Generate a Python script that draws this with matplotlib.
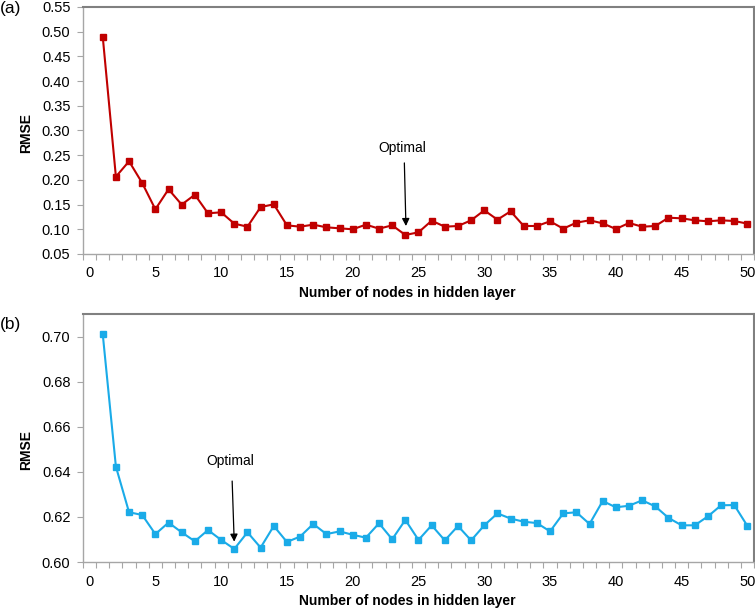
import matplotlib
matplotlib.use("Agg")
import matplotlib.pyplot as plt
import numpy as np

plt.rcParams['font.family'] = ['Liberation Sans', 'DejaVu Sans']

nodes = list(range(1, 51))

rmse_a = [0.490, 0.2065, 0.2377, 0.1937, 0.1405, 0.181, 0.150, 0.170, 0.1324, 0.1344,
          0.1114, 0.1053, 0.145, 0.1506, 0.108, 0.1053, 0.1094, 0.104, 0.102, 0.100,
          0.1094, 0.1013, 0.108, 0.0885, 0.0939, 0.1174, 0.1053, 0.1067, 0.1182, 0.1384,
          0.1195, 0.1364, 0.1067, 0.1067, 0.1162, 0.1013, 0.1134, 0.1182, 0.1121, 0.1006,
          0.1128, 0.1053, 0.1067, 0.1235, 0.1222, 0.1182, 0.1162, 0.1182, 0.1168, 0.1114]

rmse_b = [0.7013, 0.6424, 0.6221, 0.6209, 0.6124, 0.6175, 0.6132, 0.6092, 0.6142, 0.6098,
          0.6058, 0.6132, 0.6064, 0.6160, 0.6089, 0.6113, 0.6169, 0.6124, 0.6136, 0.6121,
          0.6108, 0.6172, 0.6101, 0.6187, 0.6098, 0.6163, 0.6096, 0.6160, 0.6096, 0.6163,
          0.6216, 0.6193, 0.6179, 0.6173, 0.6136, 0.6216, 0.6221, 0.6169, 0.6271, 0.6243,
          0.6250, 0.6274, 0.6247, 0.6196, 0.6163, 0.6163, 0.6203, 0.6252, 0.6253, 0.6160]

yticks_a = [0.05, 0.10, 0.15, 0.20, 0.25, 0.30, 0.35, 0.40, 0.45, 0.50, 0.55]
yticks_b = [0.60, 0.62, 0.64, 0.66, 0.68, 0.70]
xticks = [0, 5, 10, 15, 20, 25, 30, 35, 40, 45, 50]

opt_a = 24
opt_b = 11

panel_labels = ['(a)', '(b)']
xlabel = 'Number of nodes in hidden layer'
ylabel = 'RMSE'

fig = plt.figure(figsize=(7.55, 6.09), dpi=100)
W, H = 755, 609
ax_a = fig.add_axes([83 / W, 1 - 254 / H, 671 / W, 247 / H])
ax_b = fig.add_axes([83 / W, 1 - 562 / H, 671 / W, 248 / H])

light = '#a6a6a6'
dark = '#808080'

def style(ax, yticks, ylim, fmt):
    ax.set_xlim(-0.5, 50.5)
    ax.set_ylim(*ylim)
    ax.set_xticks(xticks)
    ax.set_xticks(np.arange(-0.5, 51, 1.0), minor=True)
    ax.set_yticks(yticks)
    ax.set_yticklabels([fmt.format(v) for v in yticks])
    ax.tick_params(axis='x', which='major', length=0, pad=9, labelsize=10.5, colors='black')
    ax.tick_params(axis='x', which='minor', length=4, width=0.8, color=light, direction='out')
    ax.tick_params(axis='y', which='major', length=4, width=0.8, color=light, pad=5,
                   labelsize=10.5, labelcolor='black', direction='out')
    for s in ['left', 'bottom']:
        ax.spines[s].set_color(light)
        ax.spines[s].set_linewidth(1.0)
    for s in ['top', 'right']:
        ax.spines[s].set_color(dark)
        ax.spines[s].set_linewidth(1.5)
    ax.set_xlabel(xlabel, fontsize=10, fontweight='bold')
    ax.set_ylabel(ylabel, fontsize=10, fontweight='bold')

style(ax_a, yticks_a, (0.05, 0.55), '{:.2f}')
style(ax_b, yticks_b, (0.60, 0.7102), '{:.2f}')

ax_a.plot(nodes, rmse_a, color='#C00000', lw=1.5, marker='s', markersize=5,
          markerfacecolor='#C00000', markeredgecolor='#C00000', clip_on=False)
ax_b.plot(nodes, rmse_b, color='#1AABE8', lw=1.5, marker='s', markersize=5,
          markerfacecolor='#1AABE8', markeredgecolor='#1AABE8', clip_on=False)

ax_a.xaxis.set_label_coords(0.484, -0.13)
ax_b.xaxis.set_label_coords(0.484, -0.13)
ax_a.yaxis.set_label_coords(-0.074, 0.49)
ax_b.yaxis.set_label_coords(-0.074, 0.45)

# annotations
ax_a.text(23.8, 0.265, 'Optimal', fontsize=10, ha='center', va='center')
ax_a.annotate('', xy=(24.05, 0.101), xytext=(23.92, 0.240),
              arrowprops=dict(arrowstyle='-|>', color='black', lw=0.9, mutation_scale=11))
ax_b.text(10.7, 0.6449, 'Optimal', fontsize=10, ha='center', va='center')
ax_b.annotate('', xy=(11.0, 0.6078), xytext=(10.83, 0.6372),
              arrowprops=dict(arrowstyle='-|>', color='black', lw=0.9, mutation_scale=11))

fig.text(0 / W, 1 - 8 / H, panel_labels[0], fontsize=12.5, ha='left', va='center')
fig.text(0 / W, 1 - 325 / H, panel_labels[1], fontsize=12.5, ha='left', va='center')

fig.savefig('out.png', dpi=100)
